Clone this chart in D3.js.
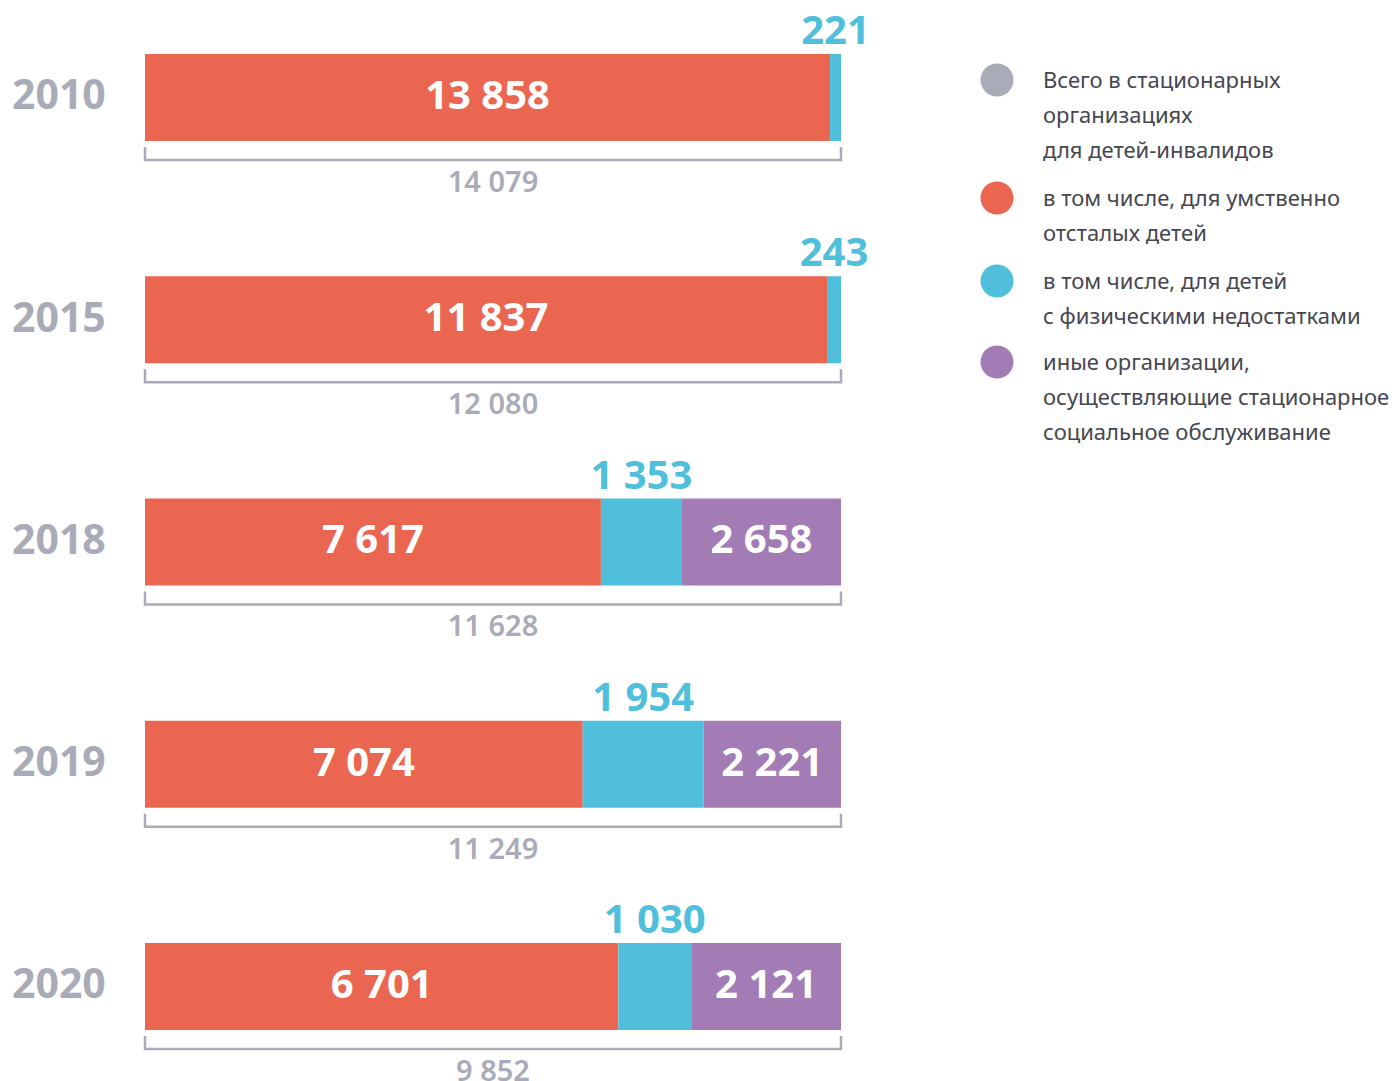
<!DOCTYPE html>
<html>
<head>
<meta charset="utf-8">
<script src="https://cdn.jsdelivr.net/npm/d3@7"></script>
<style>
  html, body { margin: 0; padding: 0; background: #ffffff; }
  svg { display: block; font-family: "Noto Sans", "Open Sans", sans-serif; }
</style>
</head>
<body>
<svg id="chart" width="1394" height="1081"></svg>
<script>
// Residents of inpatient institutions for disabled children, by year
const years = ["2010", "2015", "2018", "2019", "2020"];
const mentalValues = [13858, 11837, 7617, 7074, 6701];   // for mentally disabled children
const physicalValues = [221, 243, 1353, 1954, 1030];    // for children with physical disabilities
const otherValues = [0, 0, 2658, 2221, 2121];           // other inpatient social-service organisations
const totalValues = [14079, 12080, 11628, 11249, 9852]; // total

const legendItems = [
  { key: "total", lines: ["Всего в стационарных", "организациях", "для детей-инвалидов"] },
  { key: "mental", lines: ["в том числе, для умственно", "отсталых детей"] },
  { key: "physical", lines: ["в том числе, для детей", "с физическими недостатками"] },
  { key: "other", lines: ["иные организации,", "осуществляющие стационарное", "социальное обслуживание"] }
];

const colors = {
  total: "#a9acb8",
  mental: "#ea6650",
  physical: "#4fbfdb",
  other: "#a37bb5"
};

const fmt = d3.formatLocale({ decimal: ",", thousands: " ", grouping: [3], currency: ["", ""] }).format(",d");

const svg = d3.select("#chart");

const barLeft = 145, barRight = 841;

const y = d3.scaleBand()
  .domain(years)
  .range([54, 1030])
  .paddingInner(0.6086)
  .paddingOuter(0);

const rows = years.map((year, i) => ({
  year,
  total: totalValues[i],
  segments: [
    { key: "mental", value: mentalValues[i] },
    { key: "physical", value: physicalValues[i] },
    { key: "other", value: otherValues[i] }
  ]
}));

rows.forEach(row => {
  // each bar spans the full width: segments are shares of the year's total
  const x = d3.scaleLinear().domain([0, row.total]).range([barLeft, barRight]);
  let acc = 0;
  row.segments.forEach(s => { s.x0 = acc; acc += s.value; s.x1 = acc; });

  const g = svg.append("g").attr("class", "row");
  const top = y(row.year), h = y.bandwidth(), bottom = top + h, mid = top + h / 2;

  // year label
  g.append("text")
    .attr("x", 12)
    .attr("y", mid - 3)
    .attr("dy", "0.36em")
    .attr("font-size", 41)
    .attr("font-weight", 700)
    .attr("fill", colors.total)
    .text(row.year);

  // stacked segments
  g.selectAll("rect")
    .data(row.segments.filter(s => s.value > 0))
    .join("rect")
    .attr("x", s => x(s.x0))
    .attr("y", top)
    .attr("width", s => x(s.x1) - x(s.x0))
    .attr("height", h)
    .attr("fill", s => colors[s.key]);

  // values inside the red and purple segments
  g.selectAll("text.inside")
    .data(row.segments.filter(s => s.value > 0 && s.key !== "physical"))
    .join("text")
    .attr("class", "inside")
    .attr("x", s => (x(s.x0) + x(s.x1)) / 2)
    .attr("y", mid - 3)
    .attr("dy", "0.36em")
    .attr("text-anchor", "middle")
    .attr("font-size", 40)
    .attr("font-weight", 700)
    .attr("fill", "#ffffff")
    .text(s => fmt(s.value));

  // value of the blue segment above the bar
  const phys = row.segments.find(s => s.key === "physical");
  g.append("text")
    .attr("x", (x(phys.x0) + x(phys.x1)) / 2)
    .attr("y", top - 10)
    .attr("text-anchor", "middle")
    .attr("font-size", 40)
    .attr("font-weight", 700)
    .attr("fill", colors.physical)
    .text(fmt(phys.value));

  // bracket for the total
  g.append("path")
    .attr("d", `M${x(0)},${bottom + 6}V${bottom + 19}H${x(row.total)}V${bottom + 6}`)
    .attr("fill", "none")
    .attr("stroke", colors.total)
    .attr("stroke-width", 2.5);

  g.append("text")
    .attr("x", (x(0) + x(row.total)) / 2)
    .attr("y", bottom + 51)
    .attr("text-anchor", "middle")
    .attr("font-size", 29)
    .attr("font-weight", 600)
    .attr("fill", colors.total)
    .text(fmt(row.total));
});

// legend
const legendY = [80, 198, 281, 362];
const lineH = 35;
const legend = svg.append("g").attr("class", "legend");
legendItems.forEach((item, i) => {
  const gi = legend.append("g").attr("transform", `translate(0,${legendY[i]})`);
  gi.append("circle")
    .attr("cx", 997)
    .attr("cy", 0)
    .attr("r", 16.5)
    .attr("fill", colors[item.key]);
  const t = gi.append("text")
    .attr("font-size", 22)
    .attr("fill", "#45464f");
  item.lines.forEach((ln, j) => {
    t.append("tspan")
      .attr("x", 1043)
      .attr("y", j * lineH)
      .attr("dy", "0.36em")
      .text(ln);
  });
});
</script>
</body>
</html>
